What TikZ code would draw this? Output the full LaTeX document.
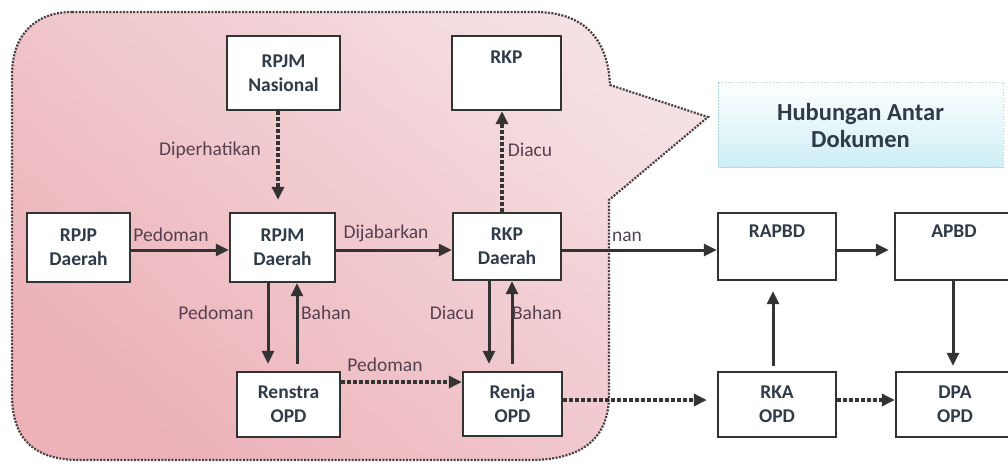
\documentclass[tikz,border=0pt]{standalone}
\usepackage{fontspec}
\setmainfont{Carlito}
\usetikzlibrary{arrows.meta}
\definecolor{edgec}{HTML}{333333}
\definecolor{boxtxt}{HTML}{2F3B48}
\definecolor{labtxt}{HTML}{55404F}
\definecolor{pinkdark}{RGB}{236,178,184}
\definecolor{pinkmid}{RGB}{248,236,238}
\definecolor{pinklight}{RGB}{245,224,228}
\definecolor{callline}{HTML}{4A3F44}
\definecolor{cyanlight}{RGB}{205,238,245}
\definecolor{cyanline}{RGB}{168,212,224}
\tikzset{
  box/.style={draw=edgec, line width=2.4pt, fill=white, align=center,
    font=\fontsize{19.5}{24}\selectfont\bfseries, text=boxtxt, inner sep=0pt},
  lab/.style={font=\fontsize{19.5}{22}\selectfont, text=labtxt, inner sep=0pt},
  arr/.style={draw=edgec, line width=3pt, -{Triangle[length=13pt,width=12pt]}},
  darr/.style={arr, line width=3.5pt, dash pattern=on 3.5pt off 2.5pt},
}
\begin{document}
\begin{tikzpicture}[x=1pt,y=-1pt]
\clip (0,0) rectangle (1008,463);
\fill[white] (0,0) rectangle (1008,463);
% callout
\shadedraw[top color=pinklight, middle color=pinkmid, bottom color=pinkdark, shading angle=-40,
  draw=callline, line width=2.2pt, dash pattern=on 2pt off 1.4pt]
  (72,12) -- (535,12) .. controls (585,12) and (608,40) .. (610,85)
  -- (708,117) -- (609,200) -- (609,395)
  .. controls (609,440) and (580,460) .. (530,460) -- (80,460)
  .. controls (35,460) and (12,440) .. (12,395) -- (12,75)
  .. controls (12,35) and (35,12) .. (72,12) -- cycle;
% title box
\shadedraw[top color=white, bottom color=cyanlight, draw=cyanline, line width=1pt,
  dash pattern=on 1.5pt off 1.5pt] (718,82) rectangle (1003,167);
\node[font=\fontsize{24.5}{27}\selectfont\bfseries, text=boxtxt, align=center, inner sep=0pt]
  (hub) at (860.5,125) {Hubungan Antar\\Dokumen};
% boxes
\node[box, minimum width=113pt, minimum height=74pt] (rpjmn) at (283.5,73) {RPJM\\Nasional};
\node[box, minimum width=109pt, minimum height=74pt] (rkp) at (506.5,73) {RKP\\\strut};
\node[box, minimum width=103pt, minimum height=69pt] (rpjpd) at (78.5,247.5) {RPJP\\Daerah};
\node[box, minimum width=105pt, minimum height=69pt] (rpjmd) at (282.5,247.5) {RPJM\\Daerah};
\node[box, minimum width=108pt, minimum height=67pt] (rkpd) at (507,246.5) {RKP\\Daerah};
\node[box, minimum width=103pt, minimum height=65pt] (renstra) at (288.5,404.5) {Renstra\\OPD};
\node[box, minimum width=99pt, minimum height=64pt] (renja) at (512.5,404) {Renja\\OPD};
\node[box, minimum width=118pt, minimum height=67pt] (rapbd) at (777,246.5) {RAPBD\\\strut};
\node[box, minimum width=118pt, minimum height=67pt] (apbd) at (954,246.5) {APBD\\\strut};
\node[box, minimum width=118pt, minimum height=65pt] (rka) at (777,404.5) {RKA\\OPD};
\node[box, minimum width=118pt, minimum height=65pt] (dpa) at (955,404.5) {DPA\\OPD};
% helper coordinates
\coordinate (xa) at (278,0);
\coordinate (xb) at (502,0);
\coordinate (xc) at (268,0);
\coordinate (xd) at (297,0);
\coordinate (xe) at (489,0);
\coordinate (xf) at (512,0);
\coordinate (xg) at (773,0);
\coordinate (xh) at (953,0);
\coordinate (ya) at (0,250);
\coordinate (yb) at (0,382);
\coordinate (yc) at (0,400);
% connectors
\draw[darr, shorten >=12pt] (rpjmn.south -| xa) -- (rpjmd.north -| xa);
\draw[darr] (rkpd.north -| xb) -- (rkp.south -| xb);
\draw[arr] (rpjpd.east |- ya) -- (rpjmd.west |- ya);
\draw[arr] (rpjmd.east |- ya) -- (rkpd.west |- ya);
\draw[arr] (rkpd.east |- ya) -- (rapbd.west |- ya);
\draw[arr, shorten >=5pt] (rapbd.east |- ya) -- (apbd.west |- ya);
\draw[arr, shorten >=7pt] (rpjmd.south -| xc) -- (renstra.north -| xc);
\draw[arr, shorten <=7pt] (renstra.north -| xd) -- (rpjmd.south -| xd);
\draw[arr, shorten >=7pt] (rkpd.south -| xe) -- (renja.north -| xe);
\draw[arr, shorten <=7pt] (renja.north -| xf) -- (rkpd.south -| xf);
\draw[arr, shorten <=5pt, shorten >=10pt] (rka.north -| xg) -- (rapbd.south -| xg);
\draw[arr, shorten >=5pt] (apbd.south -| xh) -- (dpa.north -| xh);
\draw[darr] (renstra.east |- yb) -- (renja.west |- yb);
\draw[darr, shorten >=10pt] (renja.east |- yc) -- (rka.west |- yc);
\draw[darr] (rka.east |- yc) -- (dpa.west |- yc);
% labels
\node[lab] (l1) at (210,150) {Diperhatikan};
\node[lab] (l2) at (530,150) {Diacu};
\node[lab] (l3) at (171,235) {Pedoman};
\node[lab] (l4) at (386,233) {Dijabarkan};
\node[lab] (l5) at (627,237) {nan};
\node[lab] (l6) at (216,313) {Pedoman};
\node[lab] (l7) at (326,313) {Bahan};
\node[lab] (l8) at (452,313) {Diacu};
\node[lab] (l9) at (537,313) {Bahan};
\node[lab] (l10) at (385,365) {Pedoman};
\end{tikzpicture}
\end{document}
